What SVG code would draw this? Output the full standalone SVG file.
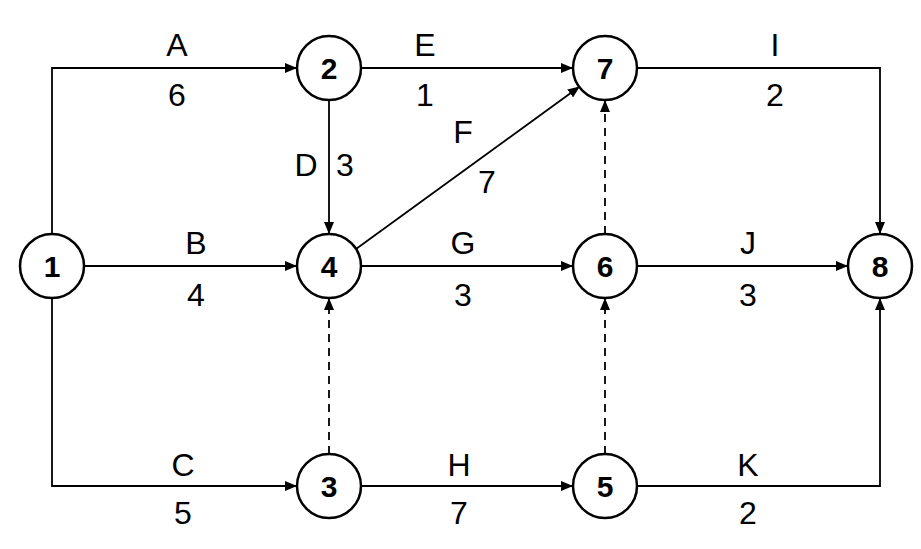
<svg xmlns="http://www.w3.org/2000/svg" width="921" height="549" viewBox="0 0 921 549">
<style>
.n{fill:#fff;stroke:#000;stroke-width:2.5}
.nt{font-family:"Liberation Sans",Arial,sans-serif;font-weight:bold;font-size:30px;text-anchor:middle;dominant-baseline:central}
.l{font-family:"Liberation Sans",Arial,sans-serif;font-size:32px;text-anchor:middle;dominant-baseline:central}
.e{fill:none;stroke:#000;stroke-width:1.8;marker-end:url(#ah)}
.d{stroke-dasharray:8,6}
</style>
<defs><marker id="ah" markerWidth="12" markerHeight="10" refX="11" refY="5" orient="auto" markerUnits="userSpaceOnUse"><path d="M0,0L12,5L0,10z"/></marker></defs>
<rect width="921" height="549" fill="#fff"/>
<g id="connectors">
<path class="e" d="M52,234V68H296"/>
<path class="e" d="M84,266H296"/>
<path class="e" d="M52,298V486H296"/>
<path class="e" d="M329,100V233"/>
<path class="e" d="M361,68H572"/>
<path class="e" d="M356,249L579,87"/>
<path class="e" d="M361,266H572"/>
<path class="e" d="M361,486H572"/>
<path class="e" d="M637,68H880V233"/>
<path class="e" d="M637,266H847"/>
<path class="e" d="M637,486H880V299"/>
<path class="e d" d="M329,454V299"/>
<path class="e d" d="M605,454V299"/>
<path class="e d" d="M605,234V101"/>
<text class="l" x="177" y="45">A</text><text class="l" x="177" y="95">6</text>
<text class="l" x="196" y="243">B</text><text class="l" x="196" y="295">4</text>
<text class="l" x="183" y="465">C</text><text class="l" x="183" y="513">5</text>
<text class="l" x="306" y="165">D</text><text class="l" x="345" y="165">3</text>
<text class="l" x="425" y="45">E</text><text class="l" x="425" y="95">1</text>
<text class="l" x="463" y="132">F</text><text class="l" x="487" y="182">7</text>
<text class="l" x="463" y="243">G</text><text class="l" x="463" y="295">3</text>
<text class="l" x="459" y="465">H</text><text class="l" x="459" y="513">7</text>
<text class="l" x="775" y="45">I</text><text class="l" x="775" y="95">2</text>
<text class="l" x="748" y="243">J</text><text class="l" x="748" y="295">3</text>
<text class="l" x="748" y="465">K</text><text class="l" x="748" y="513">2</text>
</g>
<g id="n1"><circle class="n" cx="52" cy="266" r="32"/><text class="nt" x="52" y="266">1</text></g>
<g id="n2"><circle class="n" cx="329" cy="68" r="32"/><text class="nt" x="329" y="68">2</text></g>
<g id="n3"><circle class="n" cx="329" cy="486" r="32"/><text class="nt" x="329" y="486">3</text></g>
<g id="n4"><circle class="n" cx="329" cy="266" r="32"/><text class="nt" x="329" y="266">4</text></g>
<g id="n5"><circle class="n" cx="605" cy="486" r="32"/><text class="nt" x="605" y="486">5</text></g>
<g id="n6"><circle class="n" cx="605" cy="266" r="32"/><text class="nt" x="605" y="266">6</text></g>
<g id="n7"><circle class="n" cx="605" cy="68" r="32"/><text class="nt" x="605" y="68">7</text></g>
<g id="n8"><circle class="n" cx="880" cy="266" r="32"/><text class="nt" x="880" y="266">8</text></g>
</svg>
